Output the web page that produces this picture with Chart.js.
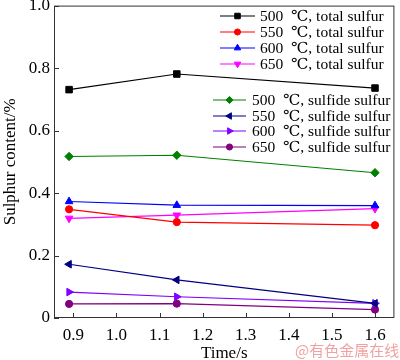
<!DOCTYPE html>
<html>
<head>
<meta charset="utf-8">
<script src="https://cdn.jsdelivr.net/npm/chart.js@4/dist/chart.umd.min.js"></script>
<style>
  html, body { margin: 0; padding: 0; background: #fff; }
  #wrap { width: 400px; height: 360px; }
</style>
</head>
<body>
<div id="wrap"><canvas id="myChart" width="400" height="360"></canvas></div>
<script>
// data
let times = [0.89, 1.14, 1.6];
let xTicks = [0.9, 1.0, 1.1, 1.2, 1.3, 1.4, 1.5, 1.6];
let yTicks = [0, 0.2, 0.4, 0.6, 0.8, 1.0];

let total500 = [0.731, 0.781, 0.736];
let total550 = [0.348, 0.307, 0.297];
let total600 = [0.373, 0.361, 0.360];
let total650 = [0.319, 0.329, 0.350];
let sulfide500 = [0.517, 0.521, 0.465];
let sulfide550 = [0.172, 0.122, 0.047];
let sulfide600 = [0.083, 0.068, 0.047];
let sulfide650 = [0.045, 0.046, 0.027];

let seriesNames = [
  "500  \u2103, total sulfur", "550  \u2103, total sulfur",
  "600  \u2103, total sulfur", "650  \u2103, total sulfur",
  "500  \u2103, sulfide sulfur", "550  \u2103, sulfide sulfur",
  "600  \u2103, sulfide sulfur", "650  \u2103, sulfide sulfur"
];
let seriesValues = [total500, total550, total600, total650, sulfide500, sulfide550, sulfide600, sulfide650];
let colors = ['#000000', '#ff0000', '#0000ff', '#ff00ff', '#008000', '#000080', '#8000ff', '#800080'];
let markers = [
  {style: 'rect', rot: 0, r: 4.6},
  {style: 'circle', rot: 0, r: 3.6},
  {style: 'triangle', rot: 0, r: 4.4},
  {style: 'triangle', rot: 180, r: 4.4},
  {style: 'rectRot', rot: 0, r: 4.2},
  {style: 'triangle', rot: 270, r: 4.4},
  {style: 'triangle', rot: 90, r: 4.4},
  {style: 'circle', rot: 0, r: 3.6}
];

const serif = "'Liberation Serif', 'DejaVu Serif', serif";

var datasets = seriesValues.map(function(vals, i) {
  return {
    label: seriesNames[i],
    data: vals.map(function(v, j) { return {x: times[j], y: v}; }),
    borderColor: colors[i],
    backgroundColor: colors[i],
    borderWidth: 1.2,
    pointStyle: markers[i].style,
    pointRotation: markers[i].rot,
    pointRadius: markers[i].r,
    pointBorderWidth: 1,
    tension: 0
  };
});

// frame, inward ticks, custom two-block legend, watermark
var extras = {
  id: 'extras',
  afterDraw: function(chart) {
    var ctx = chart.ctx;
    var a = chart.chartArea;
    var xs = chart.scales.x, ys = chart.scales.y;
    ctx.save();
    ctx.strokeStyle = '#333';
    ctx.lineWidth = 1;
    ctx.strokeRect(a.left + 0.5, a.top + 0.5, a.right - a.left - 1, a.bottom - a.top - 1);
    ctx.beginPath();
    xTicks.forEach(function(t) {
      var px = Math.round(xs.getPixelForValue(t)) + 0.5;
      ctx.moveTo(px, a.bottom);
      ctx.lineTo(px, a.bottom - 5);
    });
    yTicks.forEach(function(t) {
      var py = Math.round(ys.getPixelForValue(t)) + 0.5;
      ctx.moveTo(a.left, py);
      ctx.lineTo(a.left + 5, py);
    });
    ctx.stroke();

    // legends
    var blocks = [
      {items: [0, 1, 2, 3], x0: 220, x1: 255, tx: 260, ys: [16, 32, 48, 64]},
      {items: [4, 5, 6, 7], x0: 213, x1: 246, tx: 252, ys: [100, 116, 131, 147]}
    ];
    ctx.font = '15.5px ' + serif;
    ctx.textBaseline = 'middle';
    ctx.textAlign = 'left';
    blocks.forEach(function(b) {
      b.items.forEach(function(idx, k) {
        var y = b.ys[k];
        ctx.strokeStyle = colors[idx];
        ctx.fillStyle = colors[idx];
        ctx.lineWidth = 1.2;
        ctx.beginPath();
        ctx.moveTo(b.x0, y);
        ctx.lineTo(b.x1, y);
        ctx.stroke();
        ctx.lineWidth = 1;
        Chart.helpers.drawPoint(ctx, {
          pointStyle: markers[idx].style,
          rotation: markers[idx].rot,
          radius: markers[idx].r * 0.85,
          borderWidth: 1
        }, (b.x0 + b.x1) / 2, y);
        ctx.fillStyle = '#000';
        ctx.fillText(seriesNames[idx], b.tx, y + 1);
      });
    });

    ctx.font = "15px 'Noto Sans CJK SC', sans-serif";
    ctx.fillStyle = 'rgba(235, 130, 130, 0.75)';
    ctx.textBaseline = 'alphabetic';
    ctx.fillText('@有色金属在线', 295, 356);
    ctx.restore();
  }
};

var chart = new Chart(document.getElementById('myChart').getContext('2d'), {
  type: 'line',
  data: { datasets: datasets },
  options: {
    responsive: false,
    animation: false,
    layout: { padding: { top: 5, right: 3, left: 0, bottom: 0 } },
    plugins: { legend: { display: false }, tooltip: { enabled: false } },
    scales: {
      x: {
        type: 'linear',
        min: 0.855,
        max: 1.645,
        afterBuildTicks: function(s) { s.ticks = xTicks.map(function(v) { return {value: v}; }); },
        afterFit: function(s) { s.height = 42; s.paddingLeft = 0; s.paddingRight = 0; },
        grid: { display: false, drawTicks: false },
        border: { display: false },
        ticks: {
          color: '#000',
          padding: 7,
          font: { family: serif, size: 17 },
          callback: function(v) { return v.toFixed(1); }
        },
        title: { display: true, text: 'Time/s', color: '#000', padding: { top: 0, bottom: -4 }, font: { family: serif, size: 17 } }
      },
      y: {
        min: 0,
        max: 1.0,
        afterBuildTicks: function(s) { s.ticks = yTicks.map(function(v) { return {value: v}; }); },
        afterFit: function(s) { s.width = 54; s.paddingTop = 0; s.paddingBottom = 0; },
        grid: { display: false, drawTicks: false },
        border: { display: false },
        ticks: {
          color: '#000',
          padding: 4,
          font: { family: serif, size: 17 },
          callback: function(v) { return v === 0 ? '0' : v.toFixed(1); }
        },
        title: { display: true, text: 'Sulphur content/%', color: '#000', padding: { top: 0, bottom: 2 }, font: { family: serif, size: 17 } }
      }
    }
  },
  plugins: [extras]
});
</script>
</body>
</html>
